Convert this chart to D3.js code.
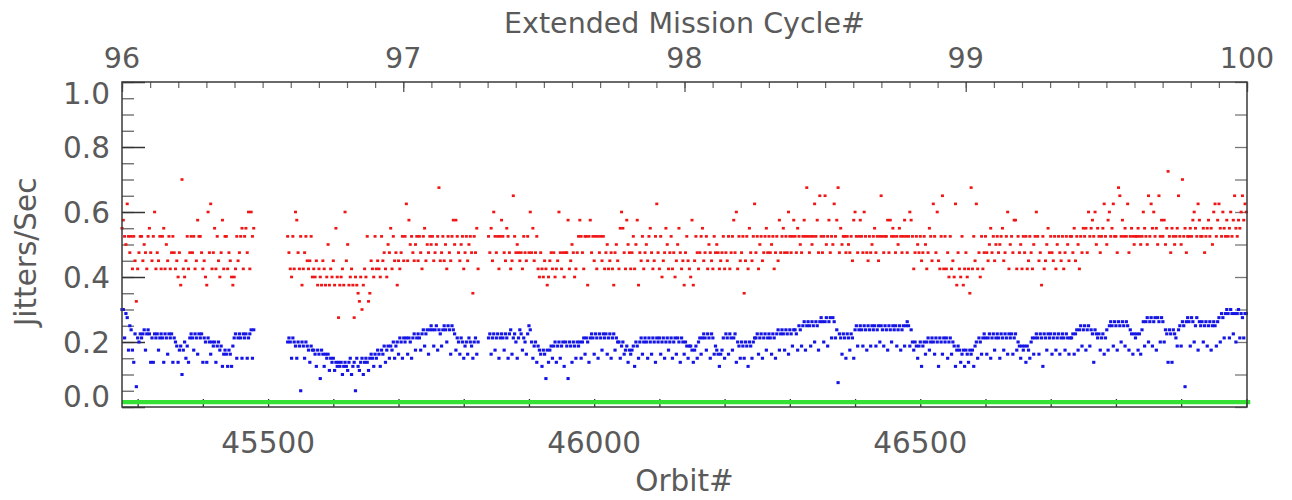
<!DOCTYPE html>
<html><head><meta charset="utf-8">
<script src="https://cdn.jsdelivr.net/npm/d3@7"></script>
<style>body{margin:0;background:#fff}</style>
</head><body>
<svg id="c" width="1292" height="500"></svg>
<script>
// ---- data ----
// one sample every 2 orbits starting at orbit 45276; values are jitter counts per 80 s (value/80 = Jitters/Sec); null = no data
const orbitStart = 45276;
const orbitStep = 2;
const valueUnit = 1 / 80;
const redValues = [
44,46,42,40,50,42,38,42,34,42, 36,26,34,38,42,42,36,40,38,34, 42,44,38,36,42,48,34,38,36,42, 34,42,44,34,40,36,42,34,38,42,
38,34,36,32,38,30,56,34,32,36, 42,34,38,42,38,42,34,36,46,42, 42,38,34,36,32,30,48,38,50,34, 38,44,34,42,36,32,38,46,34,42,
42,34,38,36,32,30,32,34,42,36, 38,42,44,34,42,44,38,48,34,48,42,44,
null,null,null,null,null,null,null,null,null,null,null,null,null,null,null,null,null,null,null,null,null,null,null,null,null,
42,38,34,32,42,34,48,46,38,34, 42,30,34,38,42,36,34,36,42,32, 34,32,36,30,34,32,30,36,34,30, 32,40,30,34,32,36,30,44,32,22,
30,32,34,30,48,36,40,30,32,34, 30,22,32,30,28,26,32,24,30,34, 32,42,26,28,36,34,32,42,34,36, 34,32,42,36,38,34,32,40,38,44,
34,42,36,38,30,36,34,38,42,36, 42,50,36,46,40,42,38,36,40,42, 36,42,38,34,42,44,36,40,38,42, 40,42,36,38,40,42,54,36,38,42,
36,40,34,42,38,36,42,46,40,46, 42,38,36,40,42,34,38,42,36,40, 42,38,28,42,38,44,34,
null,null,null,null,null,null,null,
42,38,44,36,48,42,38,42,34,42, 46,42,38,36,44,42,38,34,36,52, 42,38,40,38,36,38,34,42,38,36, 42,38,48,38,44,36,38,42,34,32,
38,34,32,36,34,30,32,36,38,34, 38,32,34,36,48,38,34,38,32,38, 38,46,34,36,40,38,32,34,38,42, 46,42,38,34,42,42,30,42,46,38,
42,36,42,34,42,38,42,36,42,34, 38,40,34,36,38,34,30,38,40,36, 34,44,48,44,38,34,46,40,38,34, 38,42,34,40,46,30,38,36,42,34,
38,40,36,42,44,38,34,36,42,50, 38,34,42,32,36,38,44,40,34,38, 42,34,38,32,36,40,44,38,34,36,30,38,42,36,34,
32,46,30,36,42,38,34,38,42,44, 36,38,42,34,40,38,36,34,42,38, 40,38,34,36,38,42,34,38,36,42, 34,38,42,46,38,48,34,42,36,38,
42,28,36,42,34,44,38,36,42,50, 38,42,34,40,42,36,38,42,44,38, 42,38,40,42,34,38,42,36,46,38, 42,44,38,42,38,48,42,38,42,46,
42,38,44,42,40,38,42,46,42,54, 42,38,42,40,42,50,42,46,38,52, 42,38,42,52,40,42,46,38,42,40, 50,42,46,54,38,44,40,42,42,38,
42,40,38,42,36,46,48,42,38,42, 46,42,38,48,42,38,36,42,38,40, 42,44,38,42,36,42,
52,42,38,42,42,46,38,46,42,44, 42,38,42,40,44,42,38,42,46,42, 38,42,48,46,42,34,38,42,40,38, 42,36,38,42,40,34,38,44,42,36,
50,42,38,48,36,34,42,52,34,42, 34,38,32,42,34,36,32,50,30,38, 34,32,42,30,34,38,32,34,28,54, 34,42,36,50,34,38,32,42,34,38,
42,38,36,40,44,38,42,36,40,42, 38,40,42,44,36,38,42,48,34,40, 42,38,46,46,34,42,38,40,34,42, 38,42,34,36,42,38,34,40,42,48,
42,36,38,30,42,34,36,40,44,38, 42,38,36,42,34,40,42,38,36,42,34,38,42,40,36,42,
42,38,44,36,42,40,34,42,38,44, 42,44,38,48,42,44,46,42,48,40, 44,42,38,42,44,50,42,40,46,48, 42,44,50,42,42,38,54,52,42,46,
42,44,42,50,38,42,44,42,40,42, 42,44,42,40,42,48,44,42,40,52, 42,50,44,48,42,44,40,52,42,46, 42,46,40,44,58,42,38,44,42,40,
42,44,52,42,40,56,42,44,38,42, 42,44,42,46,48,44,42,50,46,42, 42,44,38,42,44,46,42,44,40,48, 50,42,46,50,44,42,48,44,42,46,
42,44,48,42,46,52,44,42,46,44,48,52,46,50,48
];
const blueValues = [
24,24,17,23,22,14,20,19,14,11, 18,5,17,16,18,17,18,19,14,18, 19,18,11,17,11,18,17,18,14,17, 18,17,11,18,17,13,18,17,18,11,
17,16,15,11,14,15,8,14,16,12, 15,11,17,18,17,14,18,17,13,18, 17,18,11,17,16,11,17,16,13,16, 15,16,11,15,16,14,15,10,13,14,
13,10,14,13,10,15,17,18,12,17, 18,17,12,18,17,18,12,17,18,19,12,19,
null,null,null,null,null,null,null,null,null,null,null,null,null,null,null,null,null,null,null,null,null,null,null,null,null,
16,17,16,12,17,16,15,12,16,15, 4,16,15,12,16,15,14,11,15,14, 14,13,10,14,13,7,14,13,10,13, 12,13,9,12,11,12,9,11,10,11,
10,11,8,10,11,10,9,11,12,8, 10,11,4,12,10,9,11,12,8,11, 12,11,9,12,13,12,10,13,12,14, 13,10,14,13,15,11,14,15,12,15,
14,16,12,15,16,13,17,16,12,17, 16,17,13,17,16,12,17,18,14,17, 18,17,14,18,19,15,18,19,13,19, 20,19,15,19,20,14,19,18,15,19,
20,19,16,20,19,13,20,19,18,14, 17,16,13,17,16,12,15,16,13,17, 16,15,12,16,17,13,16,
null,null,null,null,null,null,null,
17,18,13,17,18,14,17,18,12,17, 18,17,14,18,17,12,18,19,13,17, 18,16,12,17,19,18,14,17,16,13, 18,20,19,16,12,15,16,11,15,14,
13,10,14,13,7,14,11,14,15,12, 15,16,11,15,16,12,15,16,10,16, 15,7,16,15,11,16,15,12,16,15, 16,12,16,17,13,17,16,11,17,18,
17,13,18,17,12,18,17,14,18,17, 18,13,17,18,12,17,18,14,17,16, 16,12,15,16,13,14,15,11,14,13, 14,15,10,16,15,12,16,17,13,16,
17,16,12,17,16,13,17,16,11,17, 16,17,13,16,17,12,16,17,14,16, 17,12,16,17,13,17,16,11,17,16,13,16,15,12,15,
15,14,11,14,15,12,16,17,13,17, 18,17,14,18,17,12,18,17,13,15, 14,13,10,13,14,17,12,18,17,13, 18,17,14,17,18,11,16,15,12,16,
15,12,16,15,10,16,15,12,16,17, 17,18,13,17,18,12,17,18,14,17, 18,17,13,18,17,12,18,19,14,18, 19,18,14,19,18,13,19,18,15,19,
19,18,14,20,19,15,20,21,14,20, 21,20,15,21,20,16,21,20,14,21, 22,21,16,21,22,15,21,22,17,22, 21,17,19,6,18,17,13,18,17,12,
18,17,14,18,17,12,19,20,15,19, 20,19,15,20,19,14,20,19,15,20, 19,20,15,19,20,16,
20,19,15,20,19,14,20,19,16,20, 19,20,15,19,20,14,19,20,15,20, 21,20,15,19,16,14,16,15,12,15, 16,10,15,16,13,16,17,14,16,17,
16,13,17,16,10,17,16,13,17,16, 17,12,16,17,13,16,15,10,14,15, 14,11,13,14,10,14,13,11,14,13, 14,10,15,16,12,17,16,13,17,18,
17,13,17,18,12,17,18,14,17,18, 17,12,18,17,14,18,17,13,18,17, 18,13,17,18,14,16,15,12,15,14, 15,11,15,14,12,16,17,13,17,18,
17,13,18,17,10,18,17,14,18,17, 18,13,17,18,14,17,18,13,17,18,17,14,18,17,13,17,
17,18,13,18,19,14,19,20,15,19, 20,14,19,20,15,19,18,11,19,18, 17,18,14,17,18,13,17,19,14,20, 21,20,15,21,20,14,21,20,16,21,
20,15,21,20,14,19,18,13,18,17, 18,14,18,13,19,21,15,21,22,16, 21,22,15,21,22,14,22,21,16,22, 21,16,19,18,11,19,18,11,19,18,
17,15,19,20,15,21,20,5,21,22, 21,15,22,21,16,20,22,14,21,20, 21,16,20,21,15,20,21,14,20,21, 20,15,21,22,16,23,22,17,23,24,
23,17,24,23,18,23,16,23,24,17,23,22,17,23,23
];
// third series, one sample every 10 orbits (same units)
const greenStart = 45276;
const greenStep = 10;
const greenValues = [
1.2,1.2,1.2,1.2,1.2,1.2,1.2,1.2,1.2,1.2, 1.2,1.2,1.2,1.2,1.2,1.2,1.2,1.2,1.2,1.2, 1.2,1.2,1.2,1.2,1.2,1.2,1.2,1.2,1.2,1.2,
1.2,1.2,1.2,1.2,1.2,1.2,1.2,1.2,1.2,1.2, 1.2,1.2,1.2,1.2,1.2,1.2,1.2,1.2,1.2,1.2, 1.2,1.2,1.2,1.2,1.2,1.2,1.2,1.2,1.2,1.2,
1.2,1.2,1.2,1.2,1.2,1.2,1.2,1.2,1.2,1.2, 1.2,1.2,1.2,1.2,1.2,1.2,1.2,1.2,1.2,1.2, 1.2,1.2,1.2,1.2,1.2,1.2,1.2,1.2,1.2,1.2,
1.2,1.2,1.2,1.2,1.2,1.2,1.2,1.2,1.2,1.2, 1.2,1.2,1.2,1.2,1.2,1.2,1.2,1.2,1.2,1.2, 1.2,1.2,1.2,1.2,1.2,1.2,1.2,1.2,1.2,1.2,
1.2,1.2,1.2,1.2,1.2,1.2,1.2,1.2,1.2,1.2, 1.2,1.2,1.2,1.2,1.2,1.2,1.2,1.2,1.2,1.2, 1.2,1.2,1.2,1.2,1.2,1.2,1.2,1.2,1.2,1.2,
1.2,1.2,1.2,1.2,1.2,1.2,1.2,1.2,1.2,1.2, 1.2,1.2,1.2,1.2,1.2,1.2,1.2,1.2,1.2,1.2, 1.2,1.2,1.2,1.2
];
const orbitDomain = [45276, 47001];
const orbitTicks = [45500, 46000, 46500];
const cycleDomain = [96, 100];
const cycleTicks = [96, 97, 98, 99, 100];
const jitterTicks = [0.0, 0.2, 0.4, 0.6, 0.8, 1.0];
const topTitle = "Extended Mission Cycle#";
const bottomTitle = "Orbit#";
const yTitle = "Jitters/Sec";

// ---- drawing ----
const W = 1292, H = 500;
const m = {left: 122, right: 1247, top: 82, bottom: 407};
const FONT = "'DejaVu Sans',sans-serif";
const TXT = "#5a5a5a";
const svg = d3.select("#c");
svg.append("rect").attr("width", W).attr("height", H).attr("fill", "#fff");

const x = d3.scaleLinear().domain(orbitDomain).range([m.left, m.right]);
const xTop = d3.scaleLinear().domain(cycleDomain).range([m.left, m.right]);
const y = d3.scaleLinear().domain([0, 1]).range([m.bottom, m.top]);

function toPoints(arr, start, step) {
  return arr.map((v, i) => ({o: start + i * step, v: v == null ? null : v * valueUnit}));
}
const red = toPoints(redValues, orbitStart, orbitStep).filter(d => d.v != null);
const blue = toPoints(blueValues, orbitStart, orbitStep).filter(d => d.v != null);
const green = toPoints(greenValues, greenStart, greenStep);

function styleAxis(g, color, w) {
  g.select(".domain").remove();
  g.selectAll(".tick line").attr("stroke", color).attr("stroke-width", w);
  g.selectAll(".tick text").remove();
}

// left axis ticks (inside)
const leftMinor = d3.range(0, 21).map(k => k / 20);
svg.append("g").attr("transform", `translate(${m.left},0)`)
  .call(d3.axisLeft(y).tickValues(leftMinor).tickSize(-12).tickFormat(""))
  .call(g => styleAxis(g, "#666", 1.3));
svg.append("g").attr("transform", `translate(${m.left},0)`)
  .call(d3.axisLeft(y).tickValues(jitterTicks).tickSize(-23).tickFormat(""))
  .call(g => styleAxis(g, "#333", 1.5));
// right axis ticks (inside)
const rightTicks = d3.range(0, 11).map(k => k / 10);
svg.append("g").attr("transform", `translate(${m.right},0)`)
  .call(d3.axisRight(y).tickValues(rightTicks).tickSize(-12).tickFormat(""))
  .call(g => styleAxis(g, "#777", 1.3));
// bottom axis ticks
const orbitMinor = d3.range(45300, 47001, 100);
svg.append("g").attr("transform", `translate(0,${m.bottom})`)
  .call(d3.axisBottom(x).tickValues(orbitMinor).tickSize(-8).tickFormat(""))
  .call(g => styleAxis(g, "#333", 1.3));
// top axis ticks
const cycleMinor = d3.range(0, 41).map(k => 96 + k / 10);
svg.append("g").attr("transform", `translate(0,${m.top})`)
  .call(d3.axisTop(xTop).tickValues(cycleMinor).tickSize(-6).tickFormat(""))
  .call(g => styleAxis(g, "#666", 1.2));
svg.append("g").attr("transform", `translate(0,${m.top})`)
  .call(d3.axisTop(xTop).tickValues(cycleTicks).tickSize(-10).tickFormat(""))
  .call(g => styleAxis(g, "#555", 1.3));

// green series as thick line
svg.append("path").datum(green)
  .attr("fill", "none").attr("stroke", "#35e035").attr("stroke-width", 4.2)
  .attr("d", d3.line().defined(d => d.v != null).x(d => x(d.o)).y(d => y(d.v)));

// blue points
svg.append("g").selectAll("rect").data(blue).join("rect")
  .attr("x", d => x(d.o) - 1.6).attr("y", d => y(d.v) - 1.5)
  .attr("width", 3.2).attr("height", 3.0).attr("fill", "#1414e6");
// red points
svg.append("g").selectAll("rect").data(red).join("rect")
  .attr("x", d => x(d.o) - 1.5).attr("y", d => y(d.v) - 1.3)
  .attr("width", 3.0).attr("height", 2.6).attr("fill", "#f01414");

// frame
svg.append("rect").attr("x", m.left).attr("y", m.top)
  .attr("width", m.right - m.left).attr("height", m.bottom - m.top)
  .attr("fill", "none").attr("stroke", "#3a3a3a").attr("stroke-width", 1.5);

// labels
const fs = 29.5;
svg.append("g").selectAll("text").data(jitterTicks).join("text")
  .attr("x", 110).attr("y", d => Math.min(Math.max(y(d), m.top + 11), m.bottom - 11))
  .attr("dy", "0.36em").attr("text-anchor", "end")
  .attr("font-family", FONT).attr("font-size", fs).attr("fill", TXT)
  .text(d => d.toFixed(1));
svg.append("g").selectAll("text").data(orbitTicks).join("text")
  .attr("x", d => x(d)).attr("y", 453).attr("text-anchor", "middle")
  .attr("font-family", FONT).attr("font-size", fs).attr("fill", TXT)
  .text(d => d);
svg.append("g").selectAll("text").data(cycleTicks).join("text")
  .attr("x", d => xTop(d)).attr("y", 68).attr("text-anchor", "middle")
  .attr("font-family", FONT).attr("font-size", 28.5).attr("fill", TXT)
  .text(d => d);
svg.append("text").attr("x", (m.left + m.right) / 2).attr("y", 33).attr("text-anchor", "middle")
  .attr("font-family", FONT).attr("font-size", 28.5).attr("fill", TXT).text(topTitle);
svg.append("text").attr("x", (m.left + m.right) / 2).attr("y", 491).attr("text-anchor", "middle")
  .attr("font-family", FONT).attr("font-size", fs).attr("fill", TXT).text(bottomTitle);
svg.append("text").attr("transform", "translate(36,252) rotate(-90)")
  .attr("text-anchor", "middle")
  .attr("font-family", FONT).attr("font-size", fs).attr("fill", TXT).text(yTitle);
</script>
</body></html>
